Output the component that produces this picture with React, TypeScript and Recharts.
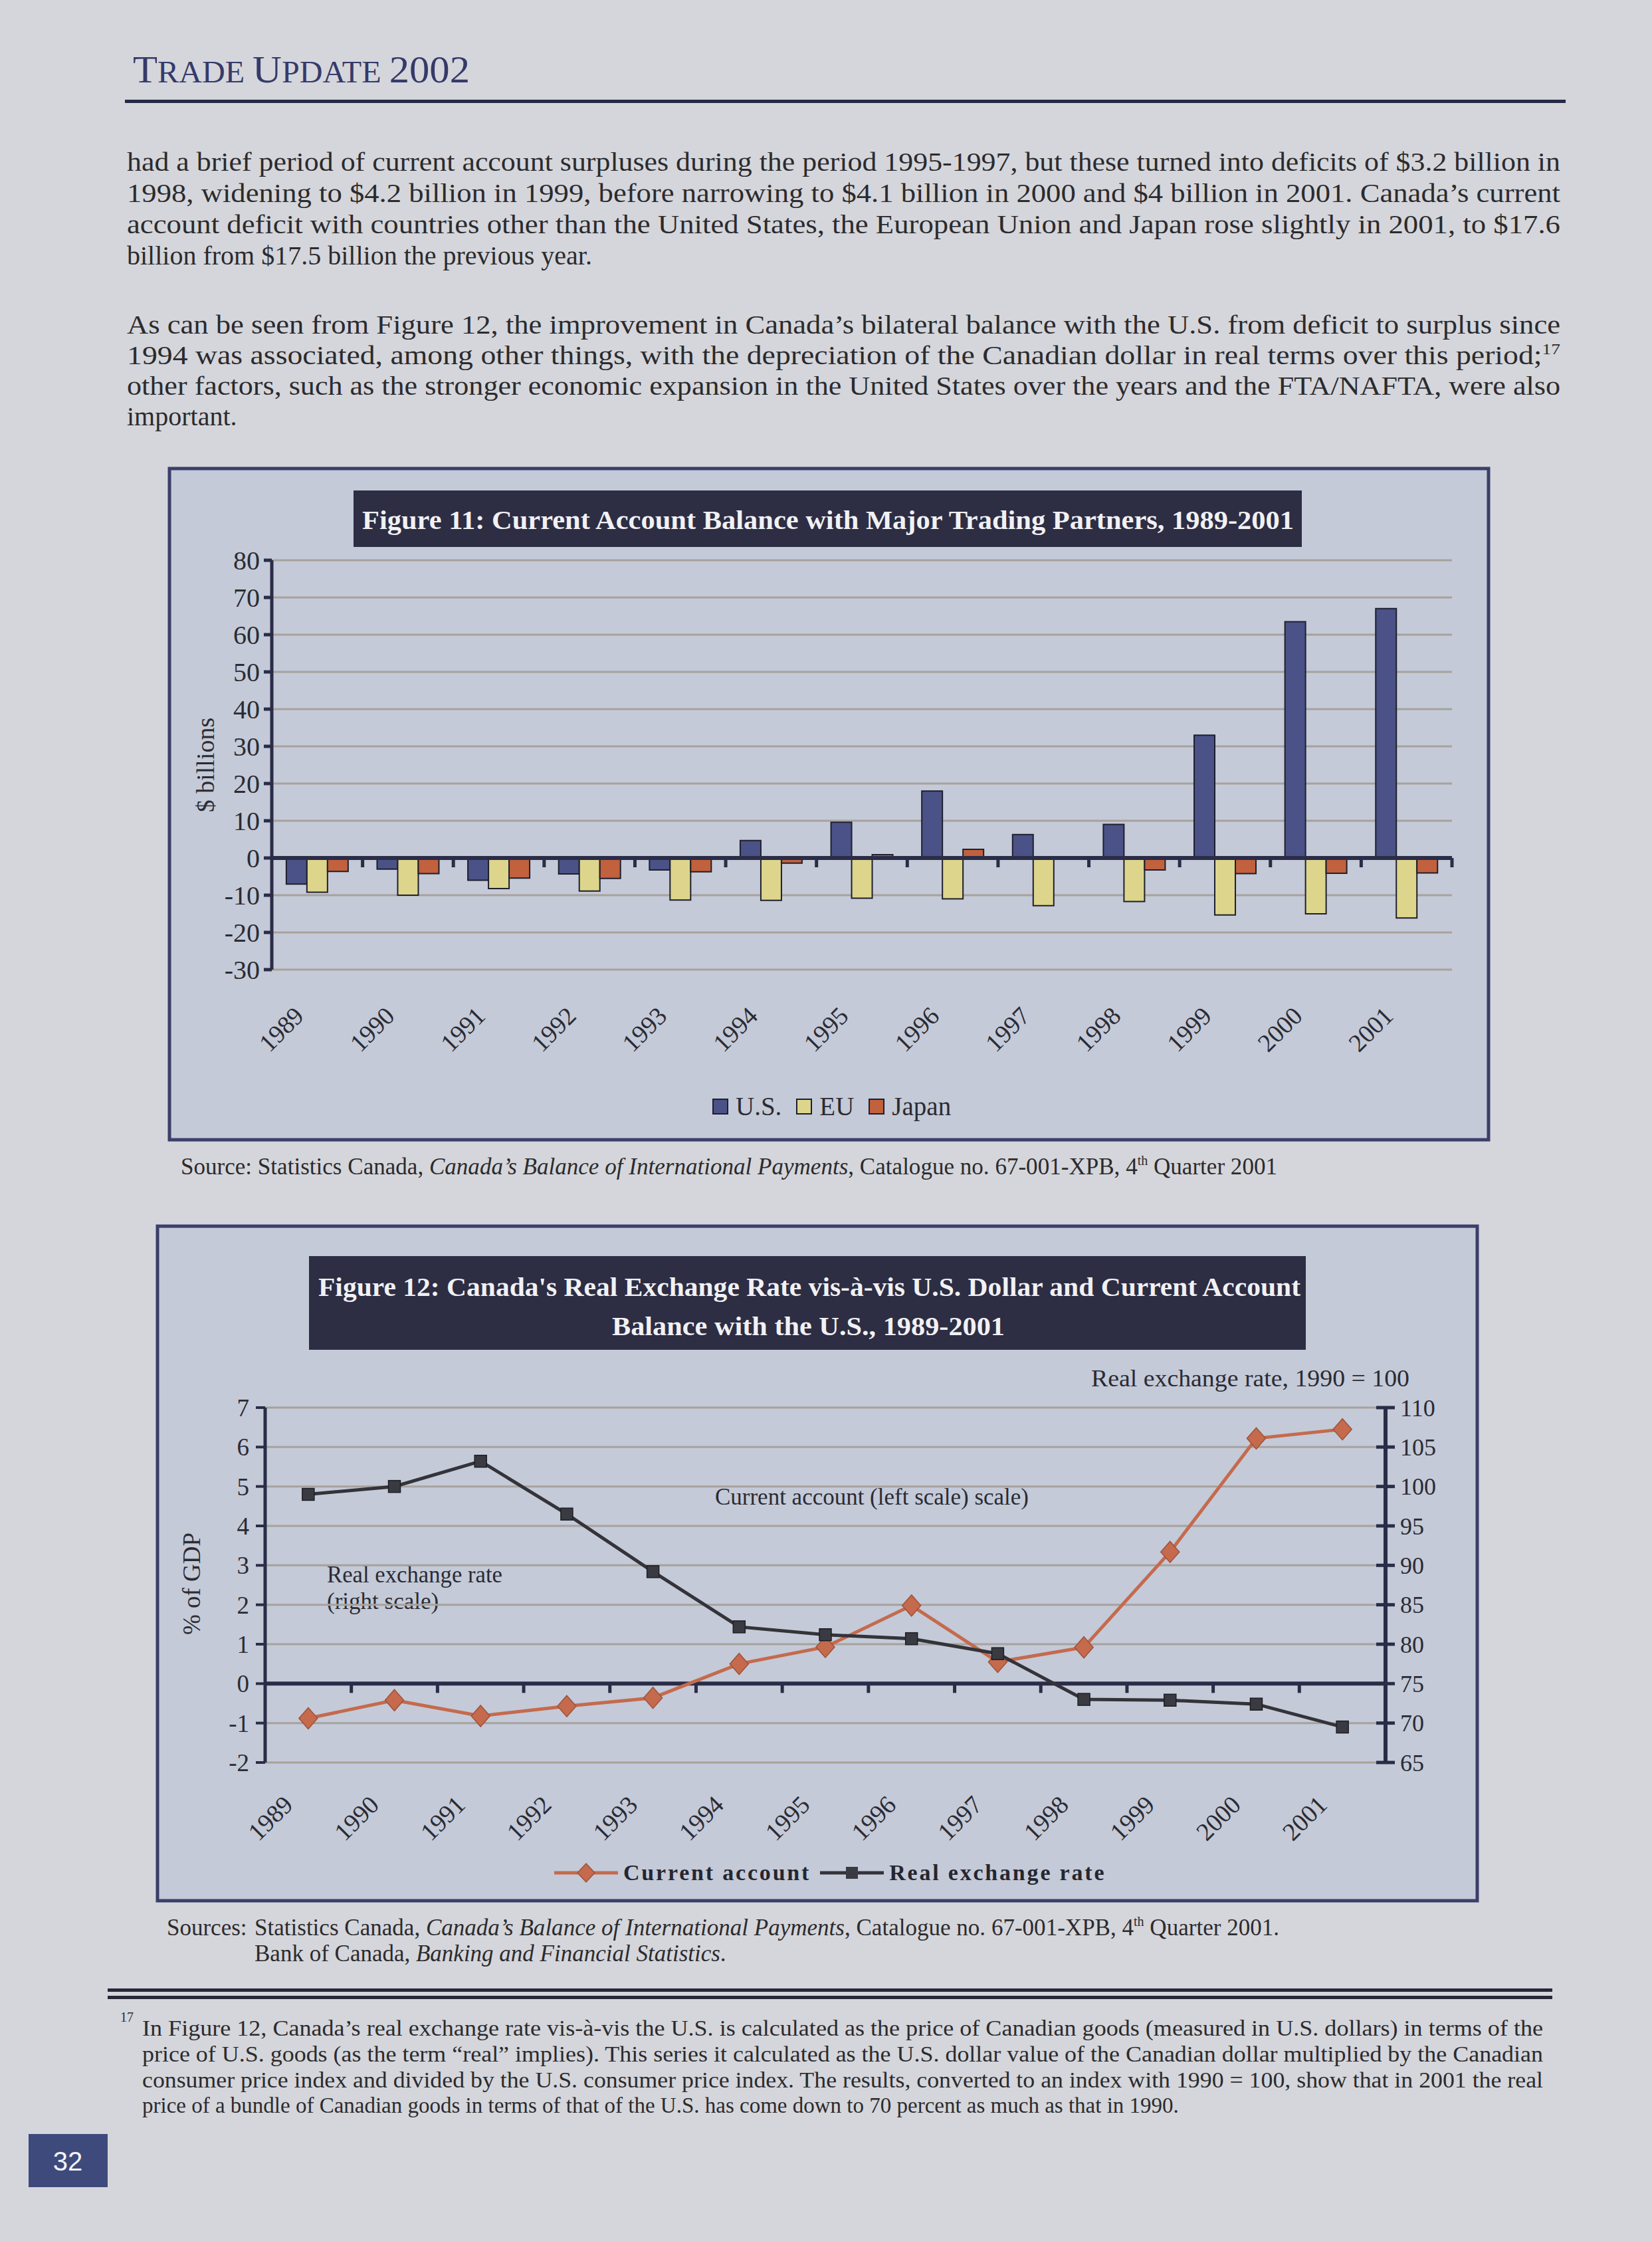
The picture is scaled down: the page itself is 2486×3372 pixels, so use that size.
import React from 'react';
import {
  BarChart, Bar, XAxis, YAxis, CartesianGrid, ReferenceLine, Legend,
  ComposedChart, Line,
} from 'recharts';

// ---------------- data ----------------
const years = ['1989', '1990', '1991', '1992', '1993', '1994', '1995', '1996', '1997', '1998', '1999', '2000', '2001'];

// Figure 11: current account balance, $ billions
const usBalance = [-7.0, -3.0, -6.0, -4.3, -3.2, 4.7, 9.6, 18.0, 6.3, 9.0, 33.0, 63.5, 67.0];
const euBalance = [-9.2, -10.0, -8.2, -8.9, -11.3, -11.4, -10.8, -11.0, -12.8, -11.7, -15.3, -15.0, -16.1];
const japanBalance = [-3.6, -4.2, -5.4, -5.5, -3.7, -1.4, 0.9, 2.3, 0.2, -3.2, -4.2, -4.1, -4.0];
const fig11Ticks = [-30, -20, -10, 0, 10, 20, 30, 40, 50, 60, 70, 80];
const fig11SeriesOrder = ['us', 'eu', 'japan'];

// Figure 12
const currentAccountGdp = [-0.88, -0.42, -0.82, -0.57, -0.36, 0.5, 0.93, 1.98, 0.55, 0.92, 3.34, 6.22, 6.45];
const realExchangeRate = [99.0, 100.0, 103.2, 96.5, 89.2, 82.2, 81.2, 80.7, 78.8, 73.0, 72.9, 72.4, 69.5];
const fig12LeftTicks = [-2, -1, 0, 1, 2, 3, 4, 5, 6, 7];
const fig12RightTicks = [65, 70, 75, 80, 85, 90, 95, 100, 105, 110];
const fig12SeriesOrder = ['ca', 'rer'];

const fig11Data = years.map((year, i) => ({ year, us: usBalance[i], eu: euBalance[i], japan: japanBalance[i] }));
const fig12Data = years.map((year, i) => ({ year, ca: currentAccountGdp[i], rer: realExchangeRate[i] }));

// ---------------- styles ----------------
const FONT = '"Liberation Serif", "Times New Roman", serif';
const INK = '#2b2b33';
const AXIS = '#2b2c47';
const GRID = '#a7a29c';
const PAGE = '#d5d6db';
const BOX = '#c4cad8';
const BOX_EDGE = '#3b3f69';
const TITLE_BG = '#2d2d44';

const FIG12_PLOT_W = 1686;
const fig12Pad = FIG12_PLOT_W / years.length / 2;

// ---------------- helpers ----------------
function makeZeroAxis(count: number, tickLen: number, width: number) {
  return (props: any) => {
    const { x1, x2, y1 } = props;
    const step = (x2 - x1) / count;
    const ticks = [];
    for (let i = 1; i <= count; i++) {
      const x = x1 + step * i;
      ticks.push(<line key={i} x1={x} x2={x} y1={y1} y2={y1 + tickLen} stroke={AXIS} strokeWidth={5} />);
    }
    return (
      <g>
        {ticks}
        <line x1={x1} x2={x2} y1={y1} y2={y1} stroke={AXIS} strokeWidth={width} />
      </g>
    );
  };
}

function makeYearTick(dx: number, dy: number) {
  return (props: any) => {
    const { x, y, payload } = props;
    return (
      <text
        transform={`translate(${x + dx},${y + dy}) rotate(-45)`}
        textAnchor="end"
        fontFamily={FONT}
        fontSize={38}
        fill={INK}
      >
        {payload.value}
      </text>
    );
  };
}

const RightTick = (props: any) => {
  const { x, y, payload } = props;
  return (
    <g>
      <line x1={x - 14} x2={x + 14} y1={y} y2={y} stroke={AXIS} strokeWidth={5} />
      <text x={x + 22} y={y} dy="0.35em" textAnchor="start" fontFamily={FONT} fontSize={36} fill={INK}>
        {payload.value}
      </text>
    </g>
  );
};

const DiamondDot = (props: any) => {
  const { cx, cy, index } = props;
  if (cx == null || cy == null) return <g key={`dd${index}`} />;
  return (
    <path
      key={`dd${index}`}
      d={`M${cx} ${cy - 16} L${cx + 14} ${cy} L${cx} ${cy + 16} L${cx - 14} ${cy} Z`}
      fill="#c56a4d"
      stroke="#9e523a"
      strokeWidth={1.5}
    />
  );
};

const SquareDot = (props: any) => {
  const { cx, cy, index } = props;
  if (cx == null || cy == null) return <g key={`sq${index}`} />;
  return <rect key={`sq${index}`} x={cx - 9} y={cy - 9} width={18} height={18} fill="#3a3a42" stroke="#1e1e24" strokeWidth={1.5} />;
};

function orderPayload(payload: any[], order: string[]) {
  return [...(payload || [])].sort((a, b) => order.indexOf(a.dataKey) - order.indexOf(b.dataKey));
}

const Fig11Legend = (props: any) => {
  const items = orderPayload(props.payload, fig11SeriesOrder);
  return (
    <div style={{ display: 'flex', alignItems: 'center', fontFamily: FONT, fontSize: 39, color: INK, height: 30, whiteSpace: 'nowrap' }}>
      {items.map((it: any, i: number) => (
        <div key={i} style={{ display: 'flex', alignItems: 'center', marginRight: 22 }}>
          <div style={{ width: 20, height: 20, background: it.color, border: '2px solid #1f1f2e', marginRight: 11 }} />
          <span style={{ lineHeight: '30px' }}>{it.value}</span>
        </div>
      ))}
    </div>
  );
};

const Fig12Legend = (props: any) => {
  const items = orderPayload(props.payload, fig12SeriesOrder);
  return (
    <div style={{ display: 'flex', alignItems: 'center', fontFamily: FONT, fontWeight: 'bold', fontSize: 34, letterSpacing: 2.8, color: '#262630', whiteSpace: 'nowrap', height: 36 }}>
      {items.map((it: any, i: number) => {
        const isCA = it.dataKey === 'ca';
        return (
          <div key={i} style={{ display: 'flex', alignItems: 'center', marginRight: 14 }}>
            <svg width={96} height={36} style={{ marginRight: 8 }}>
              <line x1={0} x2={96} y1={18} y2={18} stroke={it.color} strokeWidth={5} />
              {isCA
                ? <path d="M48 4 L61 18 L48 32 L35 18 Z" fill="#c56a4d" stroke="#9e523a" strokeWidth={1.5} />
                : <rect x={39} y={9} width={18} height={18} fill="#3a3a42" />}
            </svg>
            <span style={{ lineHeight: '36px' }}>{it.value}</span>
          </div>
        );
      })}
    </div>
  );
};

// ---------------- page text ----------------
const para1 = [
  'had a brief period of current account surpluses during the period 1995-1997, but these turned into deficits of $3.2 billion in',
  '1998, widening to $4.2 billion in 1999, before narrowing to $4.1 billion in 2000 and $4 billion in 2001. Canada\u2019s current',
  'account deficit with countries other than the United States, the European Union and Japan rose slightly in 2001, to $17.6',
  'billion from $17.5 billion the previous year.',
];
const para1Base = [257, 304, 351, 398];
const para2Base = [502, 548, 594, 640];
const footLines = [
  'In Figure 12, Canada\u2019s real exchange rate vis-\u00e0-vis the U.S. is calculated as the price of Canadian goods (measured in U.S. dollars) in terms of the',
  'price of U.S. goods (as the term \u201creal\u201d implies). This series it calculated as the U.S. dollar value of the Canadian dollar multiplied by the Canadian',
  'consumer price index and divided by the U.S. consumer price index. The results, converted to an index with 1990 = 100, show that in 2001 the real',
  'price of a bundle of Canadian goods in terms of that of the U.S. has come down to 70 percent as much as that in 1990.',
];
const footBase = [3063, 3102, 3141, 3179];

const BODY = 40;

function PageText() {
  return (
    <svg width={2486} height={3372} style={{ position: 'absolute', left: 0, top: 0 }}>
      <rect x={0} y={0} width={2486} height={3372} fill={PAGE} />
      {/* header */}
      <text x={200} y={124} fill="#353a6a" fontFamily={FONT} fontSize={58} textLength={507} lengthAdjust="spacingAndGlyphs">
        T<tspan fontSize={46}>RADE </tspan>U<tspan fontSize={46}>PDATE </tspan>2002
      </text>
      <rect x={188} y={150} width={2168} height={5} fill="#262a48" />

      {/* paragraphs */}
      {para1.map((t, i) => (
        <text key={`p1${i}`} x={191} y={para1Base[i]} fill="#2b2b2e" fontFamily={FONT} fontSize={BODY}
          {...(i < 3 ? { textLength: 2157, lengthAdjust: 'spacingAndGlyphs' } : {})}>{t}</text>
      ))}
      <text x={191} y={para2Base[0]} fill="#2b2b2e" fontFamily={FONT} fontSize={BODY} textLength={2157} lengthAdjust="spacingAndGlyphs">
        As can be seen from Figure 12, the improvement in Canada{'\u2019'}s bilateral balance with the U.S. from deficit to surplus since
      </text>
      <text x={191} y={para2Base[1]} fill="#2b2b2e" fontFamily={FONT} fontSize={BODY} textLength={2157} lengthAdjust="spacingAndGlyphs">
        1994 was associated, among other things, with the depreciation of the Canadian dollar in real terms over this period;<tspan fontSize={24} dy={-15}>17</tspan>
      </text>
      <text x={191} y={para2Base[2]} fill="#2b2b2e" fontFamily={FONT} fontSize={BODY} textLength={2157} lengthAdjust="spacingAndGlyphs">
        other factors, such as the stronger economic expansion in the United States over the years and the FTA/NAFTA, were also
      </text>
      <text x={191} y={para2Base[3]} fill="#2b2b2e" fontFamily={FONT} fontSize={BODY}>important.</text>

      {/* figure 11 frame */}
      <rect x={255} y={705} width={1985} height={1010} fill={BOX} stroke={BOX_EDGE} strokeWidth={5} />
      <rect x={532} y={738} width={1427} height={85} fill={TITLE_BG} />
      <text x={545} y={796} fill="#f1f1f3" fontFamily={FONT} fontWeight="bold" fontSize={41} textLength={1402} lengthAdjust="spacingAndGlyphs">
        Figure 11: Current Account Balance with Major Trading Partners, 1989-2001
      </text>
      <text transform="translate(309,1151) rotate(-90)" textAnchor="middle" dy="0.35em" fill={INK} fontFamily={FONT} fontSize={38}>$ billions</text>
      <text x={272} y={1767} fill="#2b2b2e" fontFamily={FONT} fontSize={35} textLength={1650} lengthAdjust="spacingAndGlyphs">
        Source: Statistics Canada, <tspan fontStyle="italic">Canada{'\u2019'}s Balance of International Payments</tspan>, Catalogue no. 67-001-XPB, 4<tspan fontSize={20} dy={-14}>th</tspan><tspan dy={14}> Quarter 2001</tspan>
      </text>

      {/* figure 12 frame */}
      <rect x={237} y={1845} width={1986} height={1015} fill={BOX} stroke={BOX_EDGE} strokeWidth={5} />
      <rect x={465} y={1890} width={1500} height={141} fill={TITLE_BG} />
      <text x={479} y={1950} fill="#f1f1f3" fontFamily={FONT} fontWeight="bold" fontSize={41} textLength={1478} lengthAdjust="spacingAndGlyphs">
        Figure 12: Canada's Real Exchange Rate vis-à-vis U.S. Dollar and Current Account
      </text>
      <text x={921} y={2009} fill="#f1f1f3" fontFamily={FONT} fontWeight="bold" fontSize={41} textLength={591} lengthAdjust="spacingAndGlyphs">
        Balance with the U.S., 1989-2001
      </text>
      <text x={1642} y={2086} fill={INK} fontFamily={FONT} fontSize={35} textLength={479} lengthAdjust="spacingAndGlyphs">
        Real exchange rate, 1990 = 100
      </text>
      <text x={1076} y={2264} fill={INK} fontFamily={FONT} fontSize={35} textLength={472} lengthAdjust="spacingAndGlyphs">
        Current account (left scale) scale)
      </text>
      <text x={492} y={2381} fill={INK} fontFamily={FONT} fontSize={35} textLength={264} lengthAdjust="spacingAndGlyphs">Real exchange rate</text>
      <text x={492} y={2421} fill={INK} fontFamily={FONT} fontSize={35}>(right scale)</text>
      <text transform="translate(288,2383) rotate(-90)" textAnchor="middle" dy="0.35em" fill={INK} fontFamily={FONT} fontSize={37}>% of GDP</text>

      {/* sources */}
      <text x={251} y={2912} fill="#2b2b2e" fontFamily={FONT} fontSize={35}>Sources:</text>
      <text x={383} y={2912} fill="#2b2b2e" fontFamily={FONT} fontSize={35} textLength={1542} lengthAdjust="spacingAndGlyphs">
        Statistics Canada, <tspan fontStyle="italic">Canada{'\u2019'}s Balance of International Payments</tspan>, Catalogue no. 67-001-XPB, 4<tspan fontSize={20} dy={-14}>th</tspan><tspan dy={14}> Quarter 2001.</tspan>
      </text>
      <text x={383} y={2951} fill="#2b2b2e" fontFamily={FONT} fontSize={35}>
        Bank of Canada, <tspan fontStyle="italic">Banking and Financial Statistics</tspan>.
      </text>

      {/* double rule */}
      <rect x={162} y={2992} width={2174} height={5} fill="#262838" />
      <rect x={162} y={3003} width={2174} height={5} fill="#262838" />

      {/* footnote */}
      <text x={181} y={3042} fill="#2b2b2e" fontFamily={FONT} fontSize={20}>17</text>
      {footLines.map((t, i) => (
        <text key={`f${i}`} x={214} y={footBase[i]} fill="#2b2b2e" fontFamily={FONT} fontSize={33}
          {...(i < 3 ? { textLength: 2108, lengthAdjust: 'spacingAndGlyphs' } : {})}>{t}</text>
      ))}

      {/* page number */}
      <rect x={43} y={3211} width={119} height={80} fill="#3e4a7c" />
      <text x={102} y={3266} textAnchor="middle" fill="#f4f4f6" fontFamily='"Liberation Sans", Arial, sans-serif' fontSize={40}>32</text>
    </svg>
  );
}

// ---------------- charts ----------------
function Figure11() {
  return (
    <div style={{ position: 'absolute', left: 255, top: 705, width: 1985, height: 1010 }}>
      <BarChart
        width={1985}
        height={1010}
        data={fig11Data}
        margin={{ top: 138, right: 55, bottom: 146, left: 0 }}
        barCategoryGap="16%"
        barGap={0}
      >
        <CartesianGrid vertical={false} stroke={GRID} strokeWidth={3} />
        <XAxis
          dataKey="year"
          interval={0}
          axisLine={false}
          tickLine={false}
          tickSize={0}
          tickMargin={0}
          height={110}
          tick={makeYearTick(-18, 72)}
        />
        <YAxis
          type="number"
          domain={[-30, 80]}
          ticks={fig11Ticks}
          interval={0}
          width={154}
          axisLine={{ stroke: AXIS, strokeWidth: 5 }}
          tickLine={{ stroke: AXIS, strokeWidth: 5 }}
          tickSize={12}
          tickMargin={6}
          tick={{ fontFamily: FONT, fontSize: 40, fill: INK }}
        />
        <Bar dataKey="us" name="U.S." fill="#4b5287" stroke="#1f1f2e" strokeWidth={2} isAnimationActive={false} />
        <Bar dataKey="eu" name="EU" fill="#ddd58b" stroke="#1f1f2e" strokeWidth={2} isAnimationActive={false} />
        <Bar dataKey="japan" name="Japan" fill="#c2613d" stroke="#1f1f2e" strokeWidth={2} isAnimationActive={false} />
        <ReferenceLine y={0} shape={makeZeroAxis(years.length, 14, 6)} />
        <Legend
          layout="horizontal"
          verticalAlign="middle"
          align="center"
          wrapperStyle={{ left: 817, top: 945, width: 420, height: 30 }}
          content={<Fig11Legend />}
        />
      </BarChart>
    </div>
  );
}

function Figure12() {
  return (
    <div style={{ position: 'absolute', left: 237, top: 1845, width: 1986, height: 1015 }}>
      <ComposedChart
        width={1986}
        height={1015}
        data={fig12Data}
        margin={{ top: 273, right: 0, bottom: 108, left: 0 }}
      >
        <CartesianGrid vertical={false} yAxisId="left" stroke={GRID} strokeWidth={3} />
        <XAxis
          dataKey="year"
          interval={0}
          axisLine={false}
          tickLine={false}
          tickSize={0}
          tickMargin={0}
          height={100}
          padding={{ left: fig12Pad, right: fig12Pad }}
          tick={makeYearTick(-21, 66)}
        />
        <YAxis
          yAxisId="left"
          type="number"
          domain={[-2, 7]}
          ticks={fig12LeftTicks}
          interval={0}
          width={162}
          axisLine={{ stroke: AXIS, strokeWidth: 5 }}
          tickLine={{ stroke: AXIS, strokeWidth: 4 }}
          tickSize={14}
          tickMargin={10}
          tick={{ fontFamily: FONT, fontSize: 37, fill: INK }}
        />
        <YAxis
          yAxisId="right"
          orientation="right"
          type="number"
          domain={[65, 110]}
          ticks={fig12RightTicks}
          interval={0}
          width={138}
          axisLine={{ stroke: AXIS, strokeWidth: 6 }}
          tickLine={false}
          tickSize={0}
          tickMargin={0}
          tick={<RightTick />}
        />
        <ReferenceLine yAxisId="left" y={0} shape={makeZeroAxis(years.length, 14, 6)} />
        <Line
          yAxisId="left"
          dataKey="ca"
          name="Current account"
          stroke="#c56a4d"
          strokeWidth={5}
          dot={DiamondDot}
          activeDot={false}
          isAnimationActive={false}
        />
        <Line
          yAxisId="right"
          dataKey="rer"
          name="Real exchange rate"
          stroke="#333339"
          strokeWidth={5}
          dot={SquareDot}
          activeDot={false}
          isAnimationActive={false}
        />
        <Legend
          layout="horizontal"
          verticalAlign="middle"
          align="center"
          wrapperStyle={{ left: 597, top: 955, width: 900, height: 36 }}
          content={<Fig12Legend />}
        />
      </ComposedChart>
    </div>
  );
}

export default function App() {
  return (
    <div style={{ position: 'absolute', left: 0, top: 0, width: 2486, height: 3372, overflow: 'hidden', background: PAGE }}>
      <PageText />
      <Figure11 />
      <Figure12 />
    </div>
  );
}
